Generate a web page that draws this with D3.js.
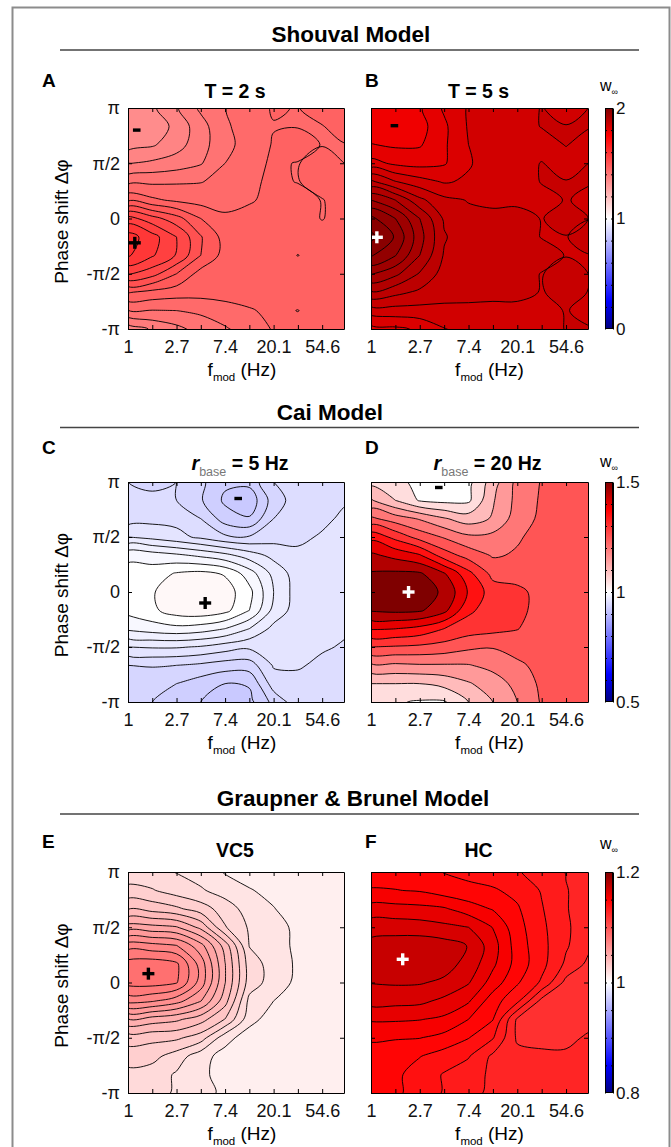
<!DOCTYPE html>
<html>
<head>
<meta charset="utf-8">
<script src="https://cdn.jsdelivr.net/npm/d3@7"></script>
<style>
  body { margin: 0; background: #fff; }
  svg text { font-family: 'Liberation Sans', Arial, Helvetica, sans-serif; }
</style>
</head>
<body>
<svg width="671" height="1147"></svg>
<script>
const PI = Math.PI

// grid coordinates: columns are ln(f_mod), rows are phase shift (in units of pi), top row = +pi
const lnfCols = [0, 0.5, 1, 1.5, 2, 2.5, 3, 3.5, 4, 4.5]
const phiRows = [1, 5/6, 2/3, 1/2, 1/3, 1/6, 0, -1/6, -1/3, -1/2, -2/3, -5/6, -1]

const xTickVals = [0, 0.5, 1, 1.5, 2, 2.5, 3, 3.5, 4]
const xLabelPos = [0, 1, 2, 3, 4]
const xLabels = ['1', '2.7', '7.4', '20.1', '54.6']
const yTickVals = [-1, -0.5, 0, 0.5, 1]
const yLabels = ['-π', '-π/2', '0', 'π/2', 'π']

// w_inf values
const gridA = [
  [1.340,1.345,1.372,1.405,1.424,1.440,1.452,1.449,1.460,1.460],
  [1.325,1.332,1.358,1.390,1.421,1.437,1.449,1.449,1.449,1.460],
  [1.340,1.347,1.365,1.390,1.418,1.435,1.452,1.460,1.449,1.449],
  [1.374,1.380,1.387,1.398,1.425,1.443,1.453,1.449,1.460,1.449],
  [1.418,1.420,1.422,1.424,1.432,1.445,1.455,1.449,1.460,1.460],
  [1.470,1.455,1.445,1.440,1.440,1.447,1.458,1.460,1.449,1.460],
  [1.560,1.535,1.510,1.475,1.455,1.460,1.460,1.460,1.449,1.460],
  [1.612,1.585,1.550,1.502,1.465,1.460,1.460,1.460,1.460,1.460],
  [1.603,1.578,1.548,1.500,1.465,1.460,1.460,1.4495,1.460,1.460],
  [1.553,1.535,1.500,1.465,1.460,1.460,1.460,1.460,1.460,1.4495],
  [1.477,1.468,1.462,1.460,1.460,1.460,1.460,1.460,1.460,1.460],
  [1.424,1.424,1.425,1.430,1.440,1.448,1.455,1.4495,1.460,1.460],
  [1.360,1.378,1.393,1.410,1.422,1.437,1.452,1.458,1.460,1.460]
]
const levelsA = [1.35, 1.375, 1.40, 1.425, 1.45, 1.475, 1.50, 1.525, 1.55, 1.575, 1.60]

const gridB = [
  [1.780,1.783,1.787,1.813,1.832,1.842,1.845,1.8505,1.845,1.8505],
  [1.775,1.772,1.782,1.806,1.832,1.843,1.845,1.8505,1.8505,1.8505],
  [1.791,1.787,1.788,1.807,1.830,1.842,1.845,1.845,1.8505,1.845],
  [1.817,1.806,1.803,1.808,1.828,1.840,1.845,1.8505,1.845,1.8505],
  [1.874,1.851,1.838,1.828,1.833,1.842,1.845,1.8505,1.8505,1.8505],
  [1.930,1.910,1.875,1.855,1.849,1.846,1.847,1.847,1.8505,1.848],
  [1.975,1.950,1.910,1.867,1.855,1.855,1.855,1.8495,1.855,1.8495],
  [1.995,1.968,1.918,1.872,1.857,1.856,1.856,1.8495,1.8495,1.856],
  [1.972,1.951,1.910,1.868,1.856,1.855,1.855,1.855,1.8495,1.8495],
  [1.932,1.915,1.888,1.862,1.855,1.855,1.855,1.8495,1.855,1.8495],
  [1.888,1.876,1.866,1.856,1.854,1.853,1.853,1.8495,1.853,1.8495],
  [1.840,1.842,1.843,1.846,1.847,1.847,1.847,1.847,1.8505,1.847],
  [1.803,1.806,1.813,1.829,1.838,1.843,1.845,1.845,1.8505,1.8505]
]
const levelsB = [1.79, 1.81, 1.83, 1.85, 1.87, 1.89, 1.91, 1.93, 1.95, 1.97, 1.99]

const gridC = [
  [0.945,0.944,0.945,0.937,0.927,0.928,0.945,0.950,0.952,0.952],
  [0.945,0.946,0.945,0.936,0.923,0.918,0.940,0.950,0.952,0.954],
  [0.950,0.952,0.952,0.945,0.930,0.926,0.945,0.952,0.953,0.957],
  [0.965,0.962,0.958,0.953,0.947,0.946,0.951,0.953,0.956,0.958],
  [0.993,0.990,0.987,0.983,0.978,0.970,0.962,0.957,0.958,0.958],
  [0.998,1.000,1.006,1.008,1.004,0.990,0.972,0.960,0.958,0.958],
  [0.999,1.004,1.012,1.015,1.010,0.998,0.975,0.960,0.958,0.958],
  [0.998,1.003,1.010,1.012,1.008,0.995,0.972,0.960,0.958,0.958],
  [0.987,0.990,0.992,0.990,0.985,0.975,0.962,0.958,0.958,0.956],
  [0.965,0.966,0.966,0.964,0.960,0.957,0.956,0.957,0.956,0.954],
  [0.945,0.946,0.945,0.943,0.940,0.940,0.956,0.956,0.953,0.952],
  [0.935,0.936,0.935,0.930,0.925,0.926,0.950,0.952,0.952,0.951],
  [0.935,0.935,0.930,0.925,0.920,0.922,0.938,0.951,0.951,0.951]
]
const levelsC = [0.905, 0.915, 0.925, 0.935, 0.945, 0.955, 0.965, 0.975, 0.985, 0.995, 1.005]

const gridD = [
  [1.060,1.040,1.010,1.005,1.010,1.100,1.190,1.228,1.245,1.250],
  [1.130,1.075,1.020,1.010,1.015,1.120,1.190,1.232,1.250,1.250],
  [1.235,1.200,1.170,1.130,1.100,1.130,1.200,1.235,1.250,1.250],
  [1.360,1.310,1.255,1.220,1.185,1.190,1.220,1.240,1.250,1.250],
  [1.435,1.410,1.380,1.300,1.255,1.220,1.230,1.250,1.250,1.250],
  [1.480,1.485,1.482,1.430,1.340,1.260,1.250,1.250,1.250,1.250],
  [1.490,1.495,1.490,1.470,1.370,1.300,1.290,1.255,1.250,1.250],
  [1.480,1.487,1.482,1.440,1.335,1.300,1.290,1.255,1.250,1.250],
  [1.380,1.376,1.360,1.325,1.300,1.290,1.277,1.250,1.250,1.250],
  [1.275,1.270,1.265,1.255,1.235,1.228,1.245,1.250,1.250,1.250],
  [1.165,1.165,1.170,1.170,1.172,1.190,1.215,1.240,1.250,1.250],
  [1.075,1.075,1.075,1.090,1.120,1.150,1.190,1.235,1.250,1.250],
  [1.045,1.030,1.020,1.020,1.075,1.125,1.175,1.230,1.245,1.250]
]
const levelsD = [1.025, 1.075, 1.125, 1.175, 1.225, 1.275, 1.325, 1.375, 1.425, 1.475]

const gridE = [
  [1.0210,1.0205,1.0185,1.0160,1.0120,1.0095,1.0080,1.0080,1.0080,1.0080],
  [1.0270,1.0255,1.0220,1.0195,1.0160,1.0130,1.0105,1.0080,1.0080,1.0080],
  [1.0370,1.0350,1.0325,1.0280,1.0220,1.0160,1.0128,1.0090,1.0080,1.0080],
  [1.0530,1.0520,1.0505,1.0420,1.0255,1.0180,1.0150,1.0110,1.0090,1.0080],
  [1.0725,1.0710,1.0690,1.0585,1.0410,1.0185,1.0155,1.0110,1.0090,1.0080],
  [1.0840,1.0850,1.0825,1.0660,1.0440,1.0220,1.0160,1.0115,1.0090,1.0080],
  [1.0835,1.0840,1.0818,1.0660,1.0440,1.0220,1.0160,1.0110,1.0090,1.0080],
  [1.0710,1.0695,1.0650,1.0565,1.0400,1.0170,1.0125,1.0090,1.0080,1.0080],
  [1.0495,1.0470,1.0450,1.0400,1.0310,1.0150,1.0090,1.0080,1.0080,1.0080],
  [1.0340,1.0330,1.0325,1.0280,1.0150,1.0090,1.0080,1.0080,1.0080,1.0080],
  [1.0280,1.0270,1.0220,1.0150,1.0100,1.0080,1.0080,1.0080,1.0080,1.0080],
  [1.0230,1.0220,1.0180,1.0145,1.0090,1.0080,1.0080,1.0080,1.0080,1.0080],
  [1.0220,1.0210,1.0180,1.0150,1.0110,1.0080,1.0080,1.0080,1.0080,1.0080]
]
const levelsE = [1.0125, 1.01875, 1.025, 1.03125, 1.0375, 1.04375, 1.05, 1.05625, 1.0625, 1.06875, 1.075, 1.08125]

const gridF = [
  [1.1470,1.1470,1.1460,1.1435,1.1420,1.1405,1.1380,1.1350,1.1310,1.1290],
  [1.1505,1.1502,1.1495,1.1470,1.1455,1.1445,1.1420,1.1370,1.1315,1.1290],
  [1.1590,1.1585,1.1580,1.1570,1.1530,1.1495,1.1445,1.1380,1.1315,1.1290],
  [1.1660,1.1660,1.1655,1.1640,1.1625,1.1560,1.1460,1.1390,1.1318,1.1290],
  [1.1710,1.1720,1.1725,1.1715,1.1685,1.1590,1.1470,1.1395,1.1320,1.1260],
  [1.1720,1.1735,1.1730,1.1715,1.1665,1.1575,1.1475,1.1395,1.1300,1.1230],
  [1.1690,1.1695,1.1693,1.1675,1.1630,1.1535,1.1445,1.1365,1.1230,1.1210],
  [1.1650,1.1645,1.1640,1.1610,1.1570,1.1465,1.1390,1.1230,1.1210,1.1205],
  [1.1570,1.1570,1.1565,1.1550,1.1500,1.1440,1.1240,1.1215,1.1205,1.1205],
  [1.1510,1.1505,1.1502,1.1480,1.1440,1.1380,1.1240,1.1220,1.1220,1.1270],
  [1.1470,1.1460,1.1440,1.1410,1.1380,1.1300,1.1270,1.1270,1.1270,1.1280],
  [1.1470,1.1450,1.1410,1.1370,1.1340,1.1300,1.1280,1.1280,1.1280,1.1280],
  [1.1470,1.1450,1.1410,1.1370,1.1330,1.1300,1.1280,1.1280,1.1280,1.1280]
]
const levelsF = [1.125, 1.13125, 1.1375, 1.14375, 1.15, 1.15625, 1.1625, 1.16875]

// extremum markers: [symbol, ln f, phase/pi, colour]
const marksA = [['-', 0.18, 0.80, '#000'], ['+', 0.14, -0.22, '#000']]
const marksB = [['-', 0.48, 0.84, '#000'], ['+', 0.12, -0.17, '#fff']]
const marksC = [['-', 2.27, 0.85, '#000'], ['+', 1.59, -0.10, '#000']]
const marksD = [['-', 1.39, 0.95, '#000'], ['+', 0.77, 0.0, '#fff']]
const marksE = [['+', 0.42, 0.08, '#000']]
const marksF = [['+', 0.65, 0.21, '#fff']]

const cbDomainB = [0, 2], cbTicksB = [0.2, 0.4, 0.6, 0.8, 1, 1.2, 1.4, 1.6, 1.8]
const cbDomainD = [0.5, 1.5], cbTicksD = [0.6, 0.7, 0.8, 0.9, 1, 1.1, 1.2, 1.3, 1.4]
const cbDomainF = [0.8, 1.2], cbTicksF = [0.85, 0.9, 0.95, 1, 1.05, 1.1, 1.15]

// blue - white - red colormap
const cmapStops = [0, 0.125, 0.5, 0.875, 1]
const cmapColors = ['#00007f', '#0000ff', '#ffffff', '#ff0000', '#7f0000']
const cmap = d3.scaleLinear().domain(cmapStops).range(cmapColors).clamp(true)

const svg = d3.select('svg')
const defs = svg.append('defs')

const colX = [[128, 344], [371, 588]]
const rowY = [[108, 329], [482, 702], [872, 1093]]
const xDomain = [0, 4.45]

// frame
svg.append('rect')
    .attr('x', 12.5).attr('y', 7.5)
    .attr('width', 657).attr('height', 1160)
    .attr('fill', 'none').attr('stroke', '#8c8c8c').attr('stroke-width', 2)

// section headings
const sections = [['Shouval Model', 351, 42, 50], ['Cai Model', 330, 420, 427.5], ['Graupner & Brunel Model', 353, 806, 814]]
sections.forEach(function (s) {
    svg.append('text')
        .attr('x', s[1]).attr('y', s[2])
        .attr('text-anchor', 'middle')
        .attr('font-size', 22.5).attr('font-weight', 'bold')
        .text(s[0])
    svg.append('line')
        .attr('x1', 60).attr('x2', 639)
        .attr('y1', s[3]).attr('y2', s[3])
        .attr('stroke', '#444').attr('stroke-width', 1.3)
})

const panels = [
    { id: 'A', grid: gridA, levels: levelsA, dom: cbDomainB, col: 0, row: 0, title: 'T = 2 s', marks: marksA },
    { id: 'B', grid: gridB, levels: levelsB, dom: cbDomainB, col: 1, row: 0, title: 'T = 5 s', marks: marksB },
    { id: 'C', grid: gridC, levels: levelsC, dom: cbDomainD, col: 0, row: 1, title: '5 Hz', marks: marksC },
    { id: 'D', grid: gridD, levels: levelsD, dom: cbDomainD, col: 1, row: 1, title: '20 Hz', marks: marksD },
    { id: 'E', grid: gridE, levels: levelsE, dom: cbDomainF, col: 0, row: 2, title: 'VC5', marks: marksE },
    { id: 'F', grid: gridF, levels: levelsF, dom: cbDomainF, col: 1, row: 2, title: 'HC', marks: marksF }
]

const letterY = [87, 454, 848]
const titleY = [98, 470, 857]

function colorOf(v, dom) {
    return cmap((v - dom[0]) / (dom[1] - dom[0]))
}

panels.forEach(function (p) {
    const x0 = colX[p.col][0], x1 = colX[p.col][1]
    const y0 = rowY[p.row][0], y1 = rowY[p.row][1]
    const xScale = d3.scaleLinear().domain(xDomain).range([x0, x1])
    const yScale = d3.scaleLinear().domain([-PI, PI]).range([y1, y0])
    const nx = lnfCols.length, ny = phiRows.length
    // d3.contours puts sample i at i + 0.5
    const gx = d3.scaleLinear().domain([0.5, nx - 0.5]).range([lnfCols[0], lnfCols[nx - 1]])
    const gy = d3.scaleLinear().domain([0.5, ny - 0.5]).range([phiRows[0] * PI, phiRows[ny - 1] * PI])

    defs.append('clipPath').attr('id', 'clip' + p.id)
        .append('rect')
        .attr('x', x0).attr('y', y0).attr('width', x1 - x0).attr('height', y1 - y0)

    const g = svg.append('g').attr('clip-path', 'url(#clip' + p.id + ')')
    const lv = p.levels
    const step = lv[1] - lv[0]

    g.append('rect')
        .attr('x', x0).attr('y', y0).attr('width', x1 - x0).attr('height', y1 - y0)
        .attr('fill', colorOf(lv[0] - step / 2, p.dom))

    const contours = d3.contours().size([nx, ny]).thresholds(lv)(p.grid.flat())
    const line = d3.line()
        .x(d => xScale(gx(d[0])))
        .y(d => yScale(gy(d[1])))
        .curve(d3.curveCatmullRomClosed.alpha(0.5))
    const pathOf = geo => geo.coordinates
        .map(poly => poly.map(ring => line(ring.slice(0, -1))).join(''))
        .join('')

    g.selectAll('path.band')
        .data(contours)
        .join('path')
        .attr('class', 'band')
        .attr('d', d => pathOf(d))
        .attr('fill-rule', 'evenodd')
        .attr('fill', (d, i) => colorOf(i < lv.length - 1 ? (lv[i] + lv[i + 1]) / 2 : lv[i] + step / 2, p.dom))
        .attr('stroke', '#000')
        .attr('stroke-width', 0.9)

    // extremum markers drawn as thick strokes
    const mk = svg.selectAll('g.mark' + p.id)
        .data(p.marks)
        .join('g')
        .attr('class', 'mark' + p.id)
        .attr('transform', d => `translate(${xScale(d[1])},${yScale(d[2] * PI)})`)
        .attr('stroke', d => d[3])
        .attr('stroke-width', 3.4)
    mk.append('line').attr('x1', d => d[0] === '+' ? -6 : -3.8).attr('x2', d => d[0] === '+' ? 6 : 3.8)
    mk.filter(d => d[0] === '+').append('line').attr('y1', -6).attr('y2', 6)

    // axes, ticks inward on all four sides
    const fmtX = d => { const i = xLabelPos.indexOf(d); return i >= 0 ? xLabels[i] : '' }
    svg.append('g').attr('transform', `translate(0,${y1})`)
        .call(d3.axisBottom(xScale).tickValues(xTickVals).tickFormat(fmtX)
            .tickSizeInner(-4).tickSizeOuter(0).tickPadding(11))
    svg.append('g').attr('transform', `translate(0,${y0})`)
        .call(d3.axisTop(xScale).tickValues(xTickVals).tickFormat('')
            .tickSizeInner(-4).tickSizeOuter(0))
    const yAx = d3.axisLeft(yScale).tickValues(yTickVals.map(v => v * PI))
        .tickSizeInner(-4).tickSizeOuter(0).tickPadding(8)
        .tickFormat(p.col === 0 ? (d => yLabels[yTickVals.indexOf(Math.round(d / PI * 2) / 2)]) : '')
    svg.append('g').attr('transform', `translate(${x0},0)`).call(yAx)
    svg.append('g').attr('transform', `translate(${x1},0)`)
        .call(d3.axisRight(yScale).tickValues(yTickVals.map(v => v * PI)).tickFormat('')
            .tickSizeInner(-4).tickSizeOuter(0))
    svg.selectAll('.tick text').attr('font-size', 18).attr('fill', '#111')
    svg.selectAll('.domain').attr('stroke', '#000')

    // panel letter
    svg.append('text')
        .attr('x', p.col === 0 ? 42 : 365).attr('y', letterY[p.row])
        .attr('font-size', 19).attr('font-weight', 'bold')
        .text(p.id)

    // panel title
    const tcx = (x0 + x1) / 2
    if (p.row === 1) {
        const t = svg.append('text')
            .attr('x', tcx + (p.col === 0 ? 4 : 8)).attr('y', titleY[p.row])
            .attr('text-anchor', 'middle')
        t.append('tspan').attr('font-size', 20).attr('font-weight', 'bold').attr('font-style', 'italic').text('r')
        t.append('tspan').attr('font-size', 12.5).attr('fill', '#777').attr('dy', 6).text('base')
        t.append('tspan').attr('font-size', 19.5).attr('font-weight', 'bold').attr('dy', -6).text(' = ' + p.title)
    } else {
        svg.append('text')
            .attr('x', tcx - 1).attr('y', titleY[p.row])
            .attr('text-anchor', 'middle')
            .attr('font-size', 19.5).attr('font-weight', 'bold')
            .text(p.title)
    }

    // x axis title
    const xt = svg.append('text')
        .attr('x', tcx + (p.col === 0 ? 6 : 10)).attr('y', y1 + 47)
        .attr('text-anchor', 'middle')
        .attr('font-size', 19)
    xt.append('tspan').text('f')
    xt.append('tspan').attr('font-size', 11.5).attr('dy', 5).text('mod')
    xt.append('tspan').attr('dy', -5).text(' (Hz)')

    // y axis title
    if (p.col === 0) {
        svg.append('text')
            .attr('transform', `translate(68,${(y0 + y1) / 2 + 3}) rotate(-90)`)
            .attr('text-anchor', 'middle')
            .attr('font-size', 19)
            .text('Phase shift Δφ')
    }
})

// colour bars
const cbars = [[cbDomainB, cbTicksB, 0, 91], [cbDomainD, cbTicksD, 1, 467], [cbDomainF, cbTicksF, 2, 849]]
cbars.forEach(function (c, k) {
    const dom = c[0]
    const y0 = rowY[c[2]][0], y1 = rowY[c[2]][1]
    const cx0 = 605, cx1 = 613
    const cy = d3.scaleLinear().domain(dom).range([y1, y0])
    const grad = defs.append('linearGradient').attr('id', 'cb' + k)
        .attr('x1', 0).attr('y1', 1).attr('x2', 0).attr('y2', 0)
    grad.selectAll('stop').data(cmapStops).join('stop')
        .attr('offset', d => d)
        .attr('stop-color', (d, i) => cmapColors[i])
    svg.append('rect')
        .attr('x', cx0).attr('y', y0).attr('width', cx1 - cx0).attr('height', y1 - y0)
        .attr('fill', 'url(#cb' + k + ')')
    svg.append('g').attr('transform', `translate(${cx0},0)`)
        .call(d3.axisLeft(cy).tickValues(c[1]).tickFormat('').tickSizeInner(-2).tickSizeOuter(0))
    svg.append('g').attr('transform', `translate(${cx1},0)`)
        .call(d3.axisRight(cy).tickValues(c[1]).tickFormat('').tickSizeInner(-2).tickSizeOuter(0))
    svg.append('g').attr('transform', `translate(${cx1},0)`)
        .call(d3.axisRight(cy).tickValues([dom[0], 1, dom[1]]).tickFormat(d => String(d))
            .tickSize(0).tickPadding(3))
        .call(g => g.select('.domain').remove())
        .selectAll('text').attr('font-size', 17).attr('fill', '#111')
    svg.append('rect')
        .attr('x', cx0 + 0.5).attr('y', y0 + 0.5).attr('width', cx1 - cx0 - 1).attr('height', y1 - y0 - 1)
        .attr('fill', 'none').attr('stroke', '#000').attr('stroke-width', 1)
    const w = svg.append('text').attr('x', 600).attr('y', c[3]).attr('font-size', 16)
    w.append('tspan').text('w')
    w.append('tspan').attr('font-size', 9).attr('dy', 4).text('∞')
})
</script>
</body>
</html>
